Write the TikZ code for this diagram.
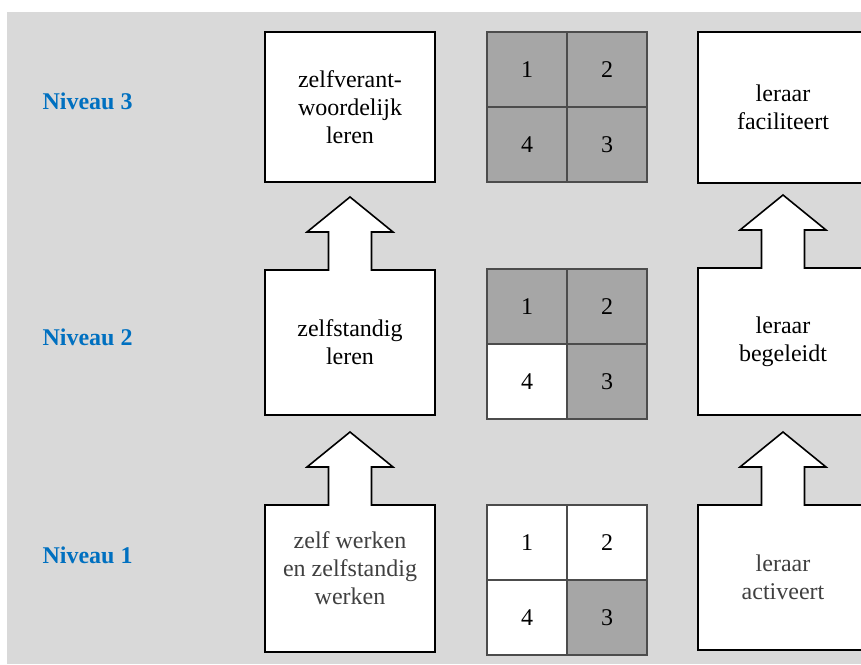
\documentclass[tikz,border=0pt]{standalone}
\usepackage{fontspec}
\setmainfont{Liberation Serif}
\usetikzlibrary{calc}
\definecolor{bgGray}{HTML}{D9D9D9}
\definecolor{cellGray}{HTML}{A6A6A6}
\definecolor{levelBlue}{HTML}{0070C0}
\pgfdeclarelayer{bg}
\pgfsetlayers{bg,main}
\tikzset{
  box/.style={line width=1.6pt, minimum width=170pt, outer sep=0pt, inner sep=0pt, align=center},
  cell/.style={draw=black!70, line width=1.1pt, minimum width=80pt, minimum height=75pt, inner sep=0pt},
  level/.style={anchor=west, text=levelBlue, font=\fontsize{24}{28}\selectfont\bfseries},
  blockarrow/.style={line width=1.6pt, fill=white}
}

\begin{document}
\begin{tikzpicture}[x=1pt, y=-1pt, font=\fontsize{24}{28}\selectfont]
      \useasboundingbox (0,0) rectangle (861,664);
      \clip (0,0) rectangle (861,664);
      % Niveaus:
      \node[level] (niv3) at (39,101) {Niveau 3};
      \node[level] (niv2) at (39,337) {Niveau 2};
      \node[level] (niv1) at (39,555) {Niveau 1};
      % Leerling:
      \node[box, draw, fill=white, minimum height=150pt] (zelf3) at (350,107) {zelfverant-\\woordelijk\\leren};
      \node[box, minimum height=145pt] (zelf2) at (350,342.5) {zelfstandig\\leren};
      \node[box, minimum height=147pt, text=black!75] (zelf1) at (350,578.5) {zelf werken\\en zelfstandig\\werken\\[-8pt]};
      % Leraar:
      \node[box, draw, fill=white, minimum height=151pt] (leraar3) at (783,107.5) {leraar\\faciliteert};
      \node[box, minimum height=147pt] (leraar2) at (783,341.5) {leraar\\begeleidt};
      \node[box, minimum height=145pt, text=black!75] (leraar1) at (783,577.5) {leraar\\activeert};
      % Pijlen (box + pijl in een omtrek), achter de tekst:
      \begin{pgfonlayer}{bg}
        \fill[bgGray] (7,12) rectangle (861,664);
        \foreach \b in {zelf2,zelf1,leraar2,leraar1}
          \draw[blockarrow] (\b.south west) -- (\b.north west) -- ($(\b.north)+(-21.5,0)$) -- ++(0,-38) -- ++(-21.5,0)
            -- ($(\b.north)+(0,-73)$) -- ($(\b.north)+(43,-38)$) -- ++(-21.5,0) -- ++(0,38)
            -- (\b.north east) -- (\b.south east) -- cycle;
      \end{pgfonlayer}
      % Kwadranten:
      \foreach \lvl/\ytop/\fa/\fb/\fc/\fd in {3/32/cellGray/cellGray/cellGray/cellGray, 2/269/cellGray/cellGray/cellGray/white, 1/505/white/white/cellGray/white} {
        \node[cell, fill=\fa] (q\lvl-1) at (527,{\ytop+37.5}) {1};
        \node[cell, fill=\fb] (q\lvl-2) at (607,{\ytop+37.5}) {2};
        \node[cell, fill=\fc] (q\lvl-3) at (607,{\ytop+112.5}) {3};
        \node[cell, fill=\fd] (q\lvl-4) at (527,{\ytop+112.5}) {4};
      }
\end{tikzpicture}
\end{document}
